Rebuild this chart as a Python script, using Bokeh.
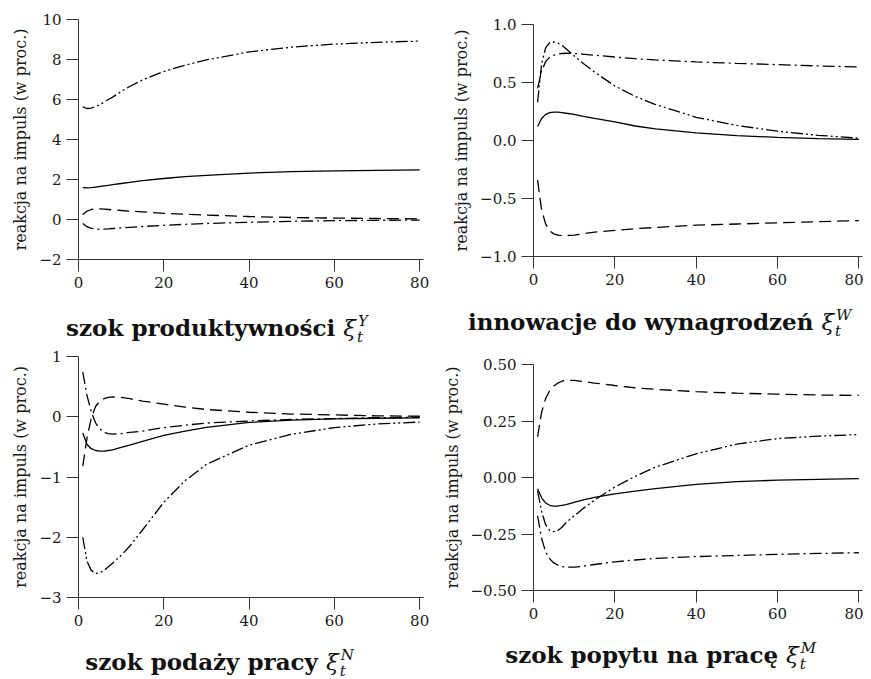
from bokeh.plotting import figure
from bokeh.layouts import column, row
from bokeh.models import Range1d, FixedTicker, Div
from bokeh.embed import file_html
from bokeh.resources import INLINE

# horizon (quarters)
T = [1, 2, 3, 4, 5, 6, 7, 8, 10, 12, 15, 20, 25, 30, 40, 50, 60, 70, 80]

# panel 1: szok produktywnosci
prod_solid = [1.6, 1.58, 1.59, 1.62, 1.65, 1.68, 1.71, 1.74, 1.8, 1.86, 1.94, 2.05, 2.14, 2.21, 2.32, 2.39, 2.43, 2.46, 2.48]
prod_dash = [0.25, 0.42, 0.5, 0.53, 0.53, 0.52, 0.5, 0.48, 0.45, 0.42, 0.38, 0.31, 0.26, 0.22, 0.15, 0.1, 0.07, 0.05, 0.03]
prod_dashdot = [-0.2, -0.36, -0.44, -0.48, -0.49, -0.48, -0.47, -0.45, -0.42, -0.39, -0.35, -0.29, -0.24, -0.2, -0.14, -0.09, -0.06, -0.04, -0.03]
prod_dashdotdot = [5.63, 5.55, 5.57, 5.65, 5.75, 5.87, 6.0, 6.12, 6.4, 6.65, 6.98, 7.4, 7.72, 7.98, 8.38, 8.62, 8.77, 8.86, 8.92]

# panel 2: innowacje do wynagrodzen
wage_solid = [0.12, 0.19, 0.225, 0.24, 0.245, 0.244, 0.24, 0.235, 0.225, 0.21, 0.19, 0.16, 0.125, 0.1, 0.065, 0.042, 0.027, 0.017, 0.01]
wage_dash = [-0.34, -0.6, -0.72, -0.78, -0.805, -0.815, -0.82, -0.82, -0.815, -0.805, -0.79, -0.775, -0.76, -0.75, -0.73, -0.72, -0.71, -0.70, -0.69]
wage_dashdot = [0.45, 0.6, 0.68, 0.72, 0.735, 0.745, 0.75, 0.752, 0.75, 0.745, 0.735, 0.72, 0.705, 0.695, 0.677, 0.665, 0.654, 0.643, 0.634]
wage_dashdotdot = [0.33, 0.66, 0.8, 0.845, 0.85, 0.84, 0.82, 0.79, 0.73, 0.67, 0.59, 0.47, 0.38, 0.31, 0.2, 0.13, 0.08, 0.045, 0.02]

# panel 3: szok podazy pracy
supp_solid = [-0.27, -0.46, -0.53, -0.56, -0.57, -0.57, -0.56, -0.55, -0.51, -0.47, -0.41, -0.31, -0.24, -0.175, -0.095, -0.055, -0.035, -0.025, -0.02]
supp_dash = [-0.82, -0.35, -0.02, 0.17, 0.26, 0.3, 0.32, 0.33, 0.32, 0.3, 0.26, 0.21, 0.16, 0.12, 0.075, 0.045, 0.03, 0.015, 0.008]
supp_dashdot = [0.74, 0.35, 0.08, -0.1, -0.2, -0.26, -0.28, -0.29, -0.28, -0.26, -0.24, -0.18, -0.14, -0.105, -0.07, -0.045, -0.03, -0.015, -0.01]
supp_dashdotdot = [-2.0, -2.4, -2.55, -2.6, -2.59, -2.55, -2.49, -2.43, -2.3, -2.15, -1.88, -1.42, -1.06, -0.79, -0.47, -0.29, -0.18, -0.12, -0.088]

# panel 4: szok popytu na prace
dem_solid = [-0.05, -0.09, -0.113, -0.123, -0.127, -0.126, -0.123, -0.12, -0.11, -0.1, -0.088, -0.072, -0.06, -0.049, -0.03, -0.018, -0.012, -0.008, -0.005]
dem_dash = [0.18, 0.29, 0.35, 0.385, 0.405, 0.418, 0.426, 0.43, 0.43, 0.425, 0.418, 0.407, 0.397, 0.39, 0.38, 0.373, 0.369, 0.365, 0.363]
dem_dashdot = [-0.17, -0.27, -0.33, -0.36, -0.378, -0.388, -0.394, -0.397, -0.397, -0.393, -0.385, -0.373, -0.365, -0.358, -0.35, -0.345, -0.34, -0.336, -0.333]
dem_dashdotdot = [-0.06, -0.15, -0.21, -0.235, -0.24, -0.235, -0.22, -0.2, -0.17, -0.14, -0.1, -0.042, 0.005, 0.046, 0.105, 0.148, 0.172, 0.183, 0.19]

x_ticks = [0, 20, 40, 60, 80]
y_ticks_1 = [-2, 0, 2, 4, 6, 8, 10]
y_labels_1 = ["\u22122", "0", "2", "4", "6", "8", "10"]
y_ticks_2 = [-1, -0.5, 0, 0.5, 1]
y_labels_2 = ["\u22121.0", "\u22120.5", "0.0", "0.5", "1.0"]
y_ticks_3 = [-3, -2, -1, 0, 1]
y_labels_3 = ["\u22123", "\u22122", "\u22121", "0", "1"]
y_ticks_4 = [-0.5, -0.25, 0, 0.25, 0.5]
y_labels_4 = ["\u22120.50", "\u22120.25", "0.00", "0.25", "0.50"]

titles = ["szok produktywności", "innowacje do wynagrodzeń", "szok podaży pracy", "szok popytu na pracę"]
title_sup = ["Y", "W", "N", "M"]

YLABEL = "reakcja na impuls (w proc.)"
SERIF = "DejaVu Serif"
DASH = "12 6"
DASHDOT = "12 4 2 4"
DASHDOTDOT = "12 3 2 3 2 3"


def panel(w, h, borders, yr, yticks, ylabels, series):
    bl, br, bt, bb = borders
    p = figure(width=w, height=h, output_backend="svg", toolbar_location=None,
               x_range=Range1d(0, 80.9), y_range=Range1d(*yr),
               min_border_left=bl, min_border_right=br, min_border_top=bt, min_border_bottom=bb)
    p.outline_line_color = None
    p.grid.visible = False
    p.xaxis.ticker = FixedTicker(ticks=x_ticks)
    p.yaxis.ticker = FixedTicker(ticks=yticks)
    p.yaxis.major_label_overrides = {t: l for t, l in zip(yticks, ylabels)}
    for ax in (p.xaxis[0], p.yaxis[0]):
        ax.axis_line_color = "#333333"
        ax.axis_line_width = 1
        ax.major_tick_line_color = "#333333"
        ax.major_tick_out = 12
        ax.major_tick_in = 0
        ax.minor_tick_line_color = None
        ax.major_label_text_font = SERIF
        ax.major_label_text_font_size = "15px"
        ax.major_label_text_color = "#1a1a1a"
        ax.major_label_standoff = 5
    p.yaxis.axis_label = YLABEL
    p.yaxis.axis_label_text_font = SERIF
    p.yaxis.axis_label_text_font_style = "normal"
    p.yaxis.axis_label_text_font_size = "16px"
    p.yaxis.axis_label_text_color = "#1a1a1a"
    p.yaxis.axis_label_standoff = 6
    for ys, dash in series:
        p.line(T, ys, line_color="black", line_width=1.3, line_dash=dash)
    return p


def title_div(w, h, text, sup, center, baseline):
    sub_style = ("position:absolute;line-height:15px;font-size:15px;"
                 "font-style:italic;font-weight:normal;")
    supsub = (f'<span style="position:relative;display:inline-block;width:16px;height:0;">'
              f'<span style="{sub_style}left:2px;top:-22px;">{sup}</span>'
              f'<span style="{sub_style}left:1px;top:-6px;">t</span></span>')
    html = (f'<div style="position:relative;width:{w}px;height:{h}px;overflow:visible;">'
            f'<div style="position:absolute;left:{center}px;top:{baseline - 19}px;'
            f'transform:translateX(-50%);white-space:nowrap;color:#111111;'
            f"font-family:'DejaVu Serif';font-size:23px;line-height:22px;font-weight:bold;\">"
            f'{text} <span style="font-style:italic;font-weight:normal;">ξ</span>{supsub}</div></div>')
    return Div(text=html, width=w, height=h, margin=0)


p1 = panel(427, 290, (69, 12, 11, 39), (-2, 10), y_ticks_1, y_labels_1,
           [(prod_solid, "solid"), (prod_dash, DASH), (prod_dashdot, DASHDOT), (prod_dashdotdot, DASHDOTDOT)])
p2 = panel(428, 290, (98, 1, 16, 42), (-1, 1), y_ticks_2, y_labels_2,
           [(wage_solid, "solid"), (wage_dash, DASH), (wage_dashdot, DASHDOT), (wage_dashdotdot, DASHDOTDOT)])
p3 = panel(427, 290, (69, 12, 13, 36), (-3, 1), y_ticks_3, y_labels_3,
           [(supp_solid, "solid"), (supp_dash, DASH), (supp_dashdot, DASHDOT), (supp_dashdotdot, DASHDOTDOT)])
p4 = panel(428, 290, (98, 1, 21, 43), (-0.5, 0.5), y_ticks_4, y_labels_4,
           [(dem_solid, "solid"), (dem_dash, DASH), (dem_dashdot, DASHDOT), (dem_dashdotdot, DASHDOTDOT)])

d1 = title_div(427, 45, titles[0], title_sup[0], 211, 38)
d2 = title_div(428, 45, titles[1], title_sup[1], 224, 32)
d3 = title_div(427, 46, titles[2], title_sup[2], 212, 37)
d4 = title_div(428, 46, titles[3], title_sup[3], 225, 30)

left_col = column(p1, d1, p3, d3)
right_col = column(p2, d2, p4, d4)
layout = row(left_col, right_col, margin=(8, 0, 0, 8))
open("out.html", "w").write(file_html(layout, INLINE))
